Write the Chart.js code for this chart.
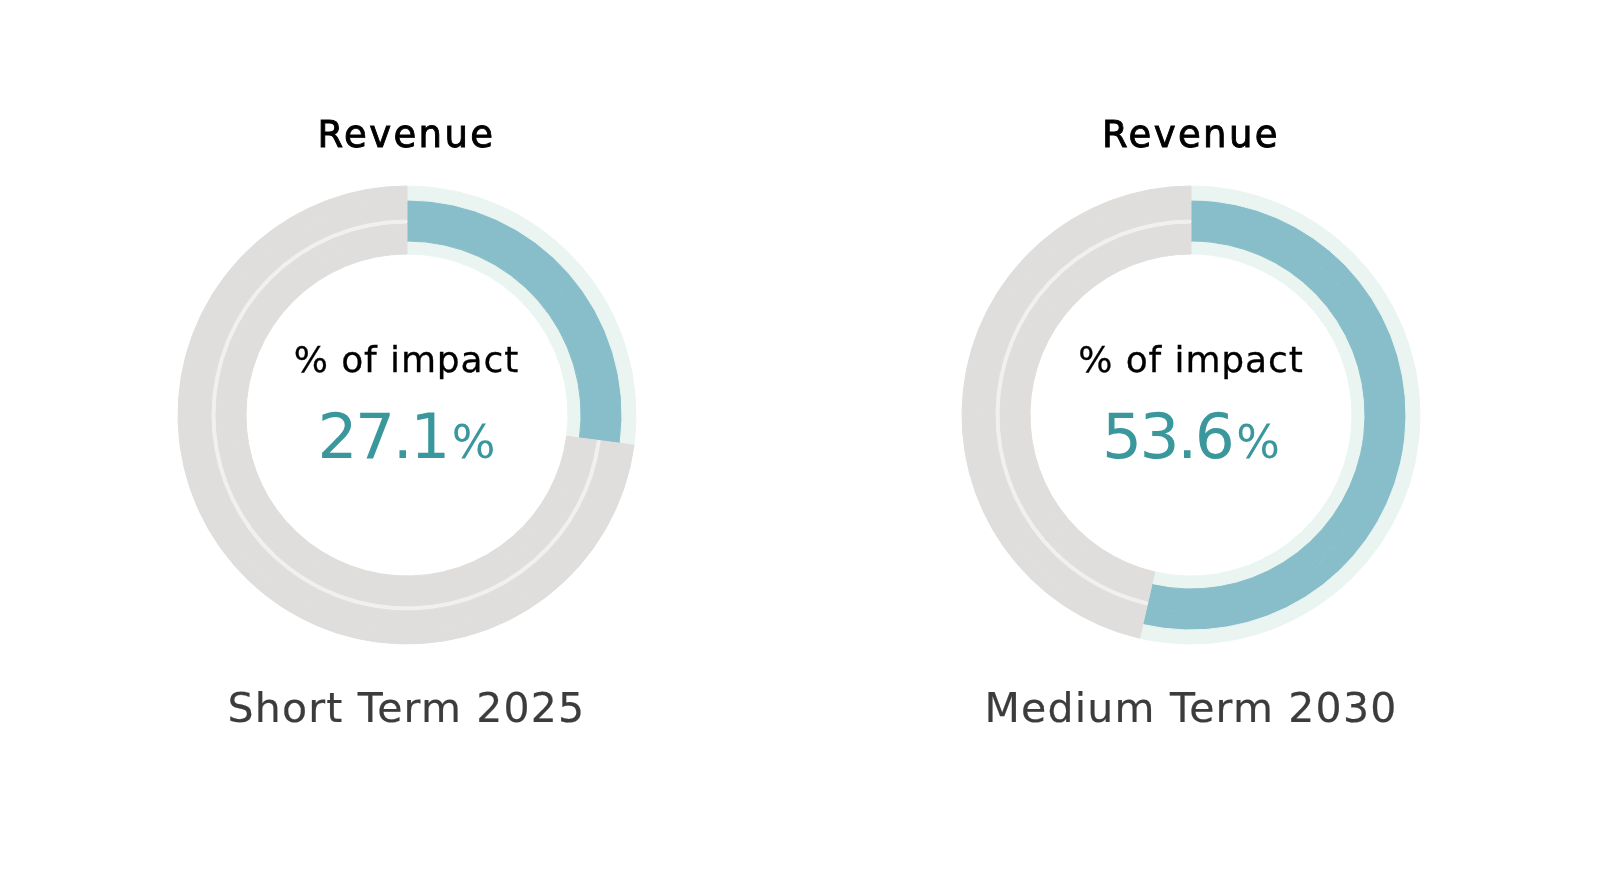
<!DOCTYPE html>
<html>
<head>
<meta charset="utf-8">
<script src="https://cdn.jsdelivr.net/npm/chart.js@4/dist/chart.umd.min.js"></script>
<style>
  html, body { margin: 0; padding: 0; background: #ffffff; }
  body { width: 1599px; height: 869px; position: relative; overflow: hidden; font-family: "DejaVu Sans", sans-serif; }
  .chart { position: absolute; top: 0; width: 800px; height: 869px; }
  .chart canvas { position: absolute; }
  .txt { position: absolute; left: 0; width: 800px; text-align: center; line-height: 1; white-space: nowrap; }
  .title { color: #000000; font-size: 37px; letter-spacing: 2.4px; -webkit-text-stroke: 0.9px #000000; }
  .center-label { color: #000000; font-size: 36px; letter-spacing: 0.9px; -webkit-text-stroke: 0.3px #000000; }
  .center-value { color: #3a979c; font-size: 63px; letter-spacing: -2.5px; }
  .center-value .pct { font-size: 46px; letter-spacing: 0; margin-left: 4px; }
  .bottom-label { color: #3c3c3c; font-size: 41px; letter-spacing: 1.2px; -webkit-text-stroke: 0.2px #3c3c3c; }
</style>
</head>
<body>
<script>
// ---- data ----
const categories = ['Short Term 2025', 'Medium Term 2030'];
const impactValues = [27.1, 53.6];
const chartTitle = 'Revenue';
const centerLabel = '% of impact';
const totalValue = 100;

// ---- layout / styles ----
const centersX = [406.5, 1191];
const centerY = 415;
const outerRadius = 229;
const innerRadius = 161;
const colors = { mint: '#eaf5f2', teal: '#88bec9', gray: '#dfdedd', line: '#f0f0f0' };
// ring layers from outside to inside: [value colour, remainder colour, thickness]
const rings = [
  ['mint', 'gray', 14],
  ['teal', 'gray', 19],
  ['teal', 'line', 4],
  ['teal', 'gray', 18],
  ['mint', 'gray', 13]
];

function baselineTop(baseline, size) { return (baseline - 0.846 * size) + 'px'; }

categories.forEach((cat, i) => {
  const v = impactValues[i];
  const wrap = document.createElement('div');
  wrap.className = 'chart';
  wrap.style.left = (centersX[i] - 400) + 'px';
  document.body.appendChild(wrap);

  const canvas = document.createElement('canvas');
  canvas.width = 600; canvas.height = 600;
  canvas.style.left = '100px';
  canvas.style.top = (centerY - 300) + 'px';
  wrap.appendChild(canvas);

  const mk = (cls, text, baseline, size) => {
    const d = document.createElement('div');
    d.className = 'txt ' + cls;
    d.style.top = baselineTop(baseline, size);
    if (text !== null) d.textContent = text;
    wrap.appendChild(d);
    return d;
  };
  mk('title', chartTitle, 147, 37);
  mk('center-label', centerLabel, 372, 36);
  const val = mk('center-value', null, 458, 63);
  val.appendChild(document.createTextNode(v.toFixed(1)));
  const pct = document.createElement('span');
  pct.className = 'pct';
  pct.textContent = '%';
  val.appendChild(pct);
  mk('bottom-label', cat, 723, 41);

  new Chart(canvas, {
    type: 'doughnut',
    data: {
      labels: ['impact', 'other'],
      datasets: rings.map(r => ({
        data: [v, totalValue - v],
        backgroundColor: [colors[r[0]], colors[r[1]]],
        borderColor: [colors[r[0]], colors[r[1]]],
        borderWidth: 1,
        weight: r[2]
      }))
    },
    options: {
      responsive: false,
      animation: false,
      events: [],
      radius: outerRadius,
      cutout: (innerRadius / outerRadius * 100) + '%',
      hoverOffset: 0,
      layout: { padding: 0 },
      plugins: { legend: { display: false }, tooltip: { enabled: false }, title: { display: false } }
    }
  });
});
</script>
</body>
</html>
